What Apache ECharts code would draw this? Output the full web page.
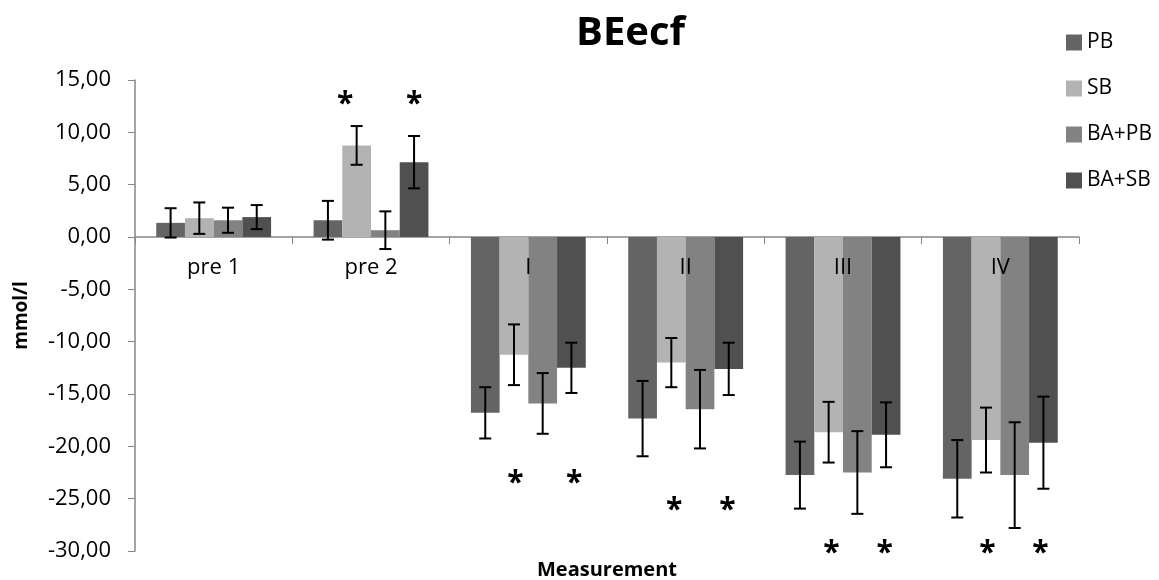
<!DOCTYPE html>
<html>
<head>
<meta charset="utf-8">
<script src="https://cdn.jsdelivr.net/npm/echarts@6/dist/echarts.min.js"></script>
<style>
	html, body { margin: 0; padding: 0; background: #fff; }
	#chart { width: 1159px; height: 580px; }
</style>
</head>
<body>
<div id="chart"></div>
<script>
const categories = [ 'pre 1', 'pre 2', 'I', 'II', 'III', 'IV' ];
const seriesNames = [ 'PB', 'SB', 'BA+PB', 'BA+SB' ];

// mean values per group
const pb = [ 1.35, 1.6, -16.8, -17.35, -22.75, -23.1 ];
const sb = [ 1.8, 8.75, -11.25, -12.0, -18.65, -19.4 ];
const baPb = [ 1.6, 0.65, -15.9, -16.45, -22.5, -22.75 ];
const baSb = [ 1.9, 7.15, -12.5, -12.6, -18.9, -19.65 ];

// standard deviations (error bars)
const pbErr = [ 1.4, 1.85, 2.45, 3.6, 3.2, 3.7 ];
const sbErr = [ 1.5, 1.85, 2.9, 2.35, 2.9, 3.1 ];
const baPbErr = [ 1.2, 1.8, 2.9, 3.75, 3.95, 5.05 ];
const baSbErr = [ 1.15, 2.5, 2.4, 2.5, 3.1, 4.4 ];

// significance marks: [category index, bar slot, y value]
const stars = [
	[ 1, 0.6, 13.2 ], [ 1, 3, 13.2 ],
	[ 2, 1.05, -23.0 ], [ 2, 3.1, -23.0 ],
	[ 3, 1.1, -25.6 ], [ 3, 2.95, -25.6 ],
	[ 4, 1.1, -29.7 ], [ 4, 2.95, -29.7 ],
	[ 5, 1.05, -29.7 ], [ 5, 2.9, -29.7 ]
];

const colors = [ '#646464', '#b3b3b3', '#828282', '#505050' ];
const values = [ pb, sb, baPb, baSb ];
const errors = [ pbErr, sbErr, baPbErr, baSbErr ];

const FONT = '"Open Sans", sans-serif';
const CAT_GAP = 0.27;

function slotX( api, catIndex, slot ) {
	const center = api.coord( [ catIndex, 0 ] )[ 0 ];
	const band = api.size( [ 1, 0 ] )[ 0 ];
	const barW = band * ( 1 - CAT_GAP ) / 4;
	return center + ( slot - 1.5 ) * barW;
}

function errorSeries( slot ) {
	const data = values[ slot ].map( ( v, i ) => [ i, v - errors[ slot ][ i ], v + errors[ slot ][ i ] ] );
	return {
		type: 'custom',
		name: seriesNames[ slot ] + ' err',
		z: 5,
		silent: true,
		encode: { x: 0, y: [ 1, 2 ] },
		data: data,
		renderItem: function ( params, api ) {
			const x = slotX( api, api.value( 0 ), slot );
			const yLow = api.coord( [ api.value( 0 ), api.value( 1 ) ] )[ 1 ];
			const yHigh = api.coord( [ api.value( 0 ), api.value( 2 ) ] )[ 1 ];
			const half = 6;
			const style = { stroke: '#000', lineWidth: 2 };
			return {
				type: 'group',
				children: [
					{ type: 'line', shape: { x1: x, y1: yLow, x2: x, y2: yHigh }, style: style },
					{ type: 'line', shape: { x1: x - half, y1: yLow, x2: x + half, y2: yLow }, style: style },
					{ type: 'line', shape: { x1: x - half, y1: yHigh, x2: x + half, y2: yHigh }, style: style }
				]
			};
		}
	};
}

const barSeries = seriesNames.map( ( name, i ) => ( {
	type: 'bar',
	name: name,
	data: values[ i ],
	barGap: '0%',
	barCategoryGap: ( CAT_GAP * 100 ) + '%',
	itemStyle: { color: colors[ i ] }
} ) );

const starSeries = {
	type: 'custom',
	name: 'stars',
	silent: true,
	z: 6,
	encode: { x: 0, y: 2 },
	data: stars,
	renderItem: function ( params, api ) {
		const x = slotX( api, api.value( 0 ), api.value( 1 ) );
		const y = api.coord( [ api.value( 0 ), api.value( 2 ) ] )[ 1 ];
		return {
			type: 'text',
			style: {
				x: x,
				y: y + 6,
				text: '*',
				fill: '#000',
				font: 'bold 30px ' + FONT,
				textAlign: 'center',
				textVerticalAlign: 'middle'
			}
		};
	}
};

// category labels sit just under the zero line, like the original
const catLabelSeries = {
	type: 'custom',
	name: 'catLabels',
	silent: true,
	z: 4,
	encode: { x: 0, y: 1 },
	data: categories.map( ( c, i ) => [ i, 0 ] ),
	renderItem: function ( params, api ) {
		const pos = api.coord( [ api.value( 0 ), 0 ] );
		return {
			type: 'text',
			style: {
				x: pos[ 0 ],
				y: pos[ 1 ] + 31,
				text: categories[ params.dataIndex ],
				fill: '#000',
				font: '22px ' + FONT,
				textAlign: 'center',
				textVerticalAlign: 'middle'
			}
		};
	}
};

const chart = echarts.init( document.getElementById( 'chart' ) );

chart.setOption( {
	animation: false,
	backgroundColor: '#fff',
	textStyle: { fontFamily: FONT },
	title: {
		text: 'BEecf',
		left: 571,
		top: 9,
		textStyle: { fontSize: 40, fontWeight: 'bold', color: '#000', fontFamily: FONT }
	},
	legend: {
		orient: 'vertical',
		left: 1061,
		top: 27,
		itemWidth: 16,
		itemHeight: 16,
		itemGap: 25,
		icon: 'rect',
		data: seriesNames,
		textStyle: { fontSize: 21, color: '#000', fontFamily: FONT }
	},
	grid: { left: 135, right: 80, top: 80, bottom: 29, containLabel: false },
	xAxis: {
		type: 'category',
		data: categories,
		axisLine: { onZero: true, lineStyle: { color: '#868686', width: 1.5 } },
		axisTick: { show: true, inside: false, length: 7, lineStyle: { color: '#868686' } },
		axisLabel: { show: false }
	},
	yAxis: {
		type: 'value',
		min: -30,
		max: 15,
		interval: 5,
		name: 'mmol/l',
		nameLocation: 'middle',
		nameGap: 104,
		nameTextStyle: { fontSize: 19, fontWeight: 'bold', color: '#000', fontFamily: FONT },
		splitLine: { show: false },
		axisLine: { show: true, lineStyle: { color: '#868686', width: 1.5 } },
		axisTick: { show: true, length: 7, lineStyle: { color: '#868686' } },
		axisLabel: {
			fontSize: 22,
			color: '#000',
			margin: 24,
			fontFamily: FONT,
			formatter: ( v ) => v.toFixed( 2 ).replace( '.', ',' )
		}
	},
	graphic: [
		{
			type: 'text',
			x: 607,
			y: 570,
			style: {
				text: 'Measurement',
				font: 'bold 20px ' + FONT,
				fill: '#000',
				textAlign: 'center',
				textVerticalAlign: 'middle'
			}
		}
	],
	series: [
		...barSeries,
		errorSeries( 0 ), errorSeries( 1 ), errorSeries( 2 ), errorSeries( 3 ),
		starSeries,
		catLabelSeries
	]
} );
</script>
</body>
</html>
